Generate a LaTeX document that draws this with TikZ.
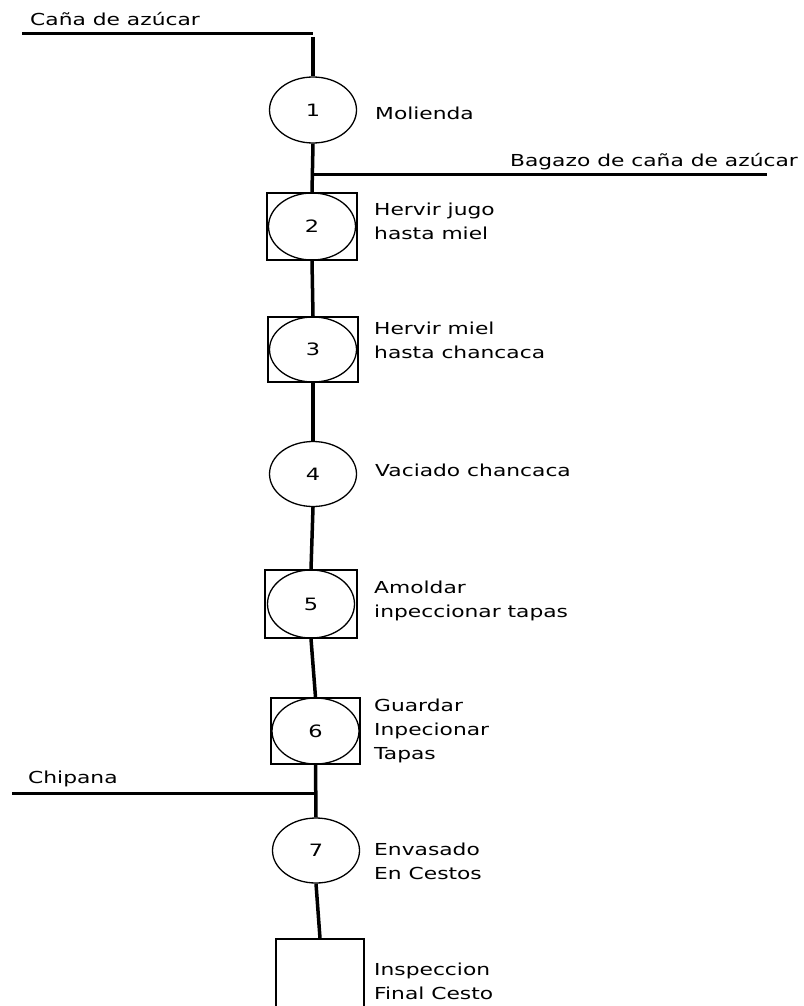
\documentclass[tikz,border=0pt]{standalone}
\usepackage{fontspec}
\setmainfont{DejaVu Sans}[FakeStretch=1.32]
\usetikzlibrary{shapes.geometric}
\begin{document}
\begin{tikzpicture}[x=1pt,y=-1pt,
  op/.style={draw, line width=1.3pt, ellipse, minimum width=87pt, minimum height=66pt, inner sep=0pt,
             font=\fontsize{17}{19}\selectfont},
  frame/.style={draw, line width=1.6pt, rectangle, minimum width=90pt, minimum height=67pt, inner sep=0pt},
  lbl/.style={anchor=west, inner sep=0pt, align=left, font=\fontsize{16.5}{24}\selectfont},
  flow/.style={line width=3.5pt},
  feed/.style={line width=3pt}]
\clip (0,0) rectangle (803,1006);
\fill[white] (0,0) rectangle (803,1006);

% operations along the main line
\node[op] (c1) at (313,110) {1};
\node[frame] (b2) at (312,226.5) {};
\node[op, minimum height=67pt] (c2) at (312,226.5) {2};
\node[frame, minimum height=65pt] (b3) at (313,349.5) {};
\node[op, minimum height=65pt] (c3) at (313,349.5) {3};
\node[op, minimum height=65pt] (c4) at (313,474) {4};
\node[frame, minimum width=92pt, minimum height=68pt] (b5) at (311,604) {};
\node[op, minimum height=68pt] (c5) at (311,604) {5};
\node[frame, minimum width=89pt, minimum height=66pt] (b6) at (315.5,731) {};
\node[op, minimum height=66pt] (c6) at (315.5,731) {6};
\node[op, minimum height=65pt] (c7) at (316,850.5) {7};
\node[draw, line width=1.6pt, rectangle, minimum width=88pt, minimum height=80pt, inner sep=0pt] (fin) at (320,979) {};

% descriptions
\node[lbl] (t1) at (375,113) {Molienda};
\node[lbl] (t2) at (374,221.5) {Hervir jugo\\hasta miel};
\node[lbl] (t3) at (374,340) {Hervir miel\\hasta chancaca};
\node[lbl] (t4) at (375,470) {Vaciado chancaca};
\node[lbl] (t5) at (374,601) {Amoldar\\inpeccionar tapas};
\node[lbl] (t6) at (374,731) {Guardar\\Inpecionar\\Tapas};
\node[lbl] (t7) at (374,861.5) {Envasado\\En Cestos};
\node[lbl] (t8) at (374,981) {Inspeccion\\Final Cesto};

% inputs and outputs
\node[lbl] (in1t) at (30,19) {Caña de azúcar};
\node[lbl, anchor=east] (out1t) at (798,162) {Bagazo de caña de azúcar};
\node[lbl] (in2t) at (28,779) {Chipana};
\coordinate (in1) at (22,34);
\coordinate (k1) at (313,34);
\coordinate (j1) at (312.5,174);
\coordinate (out1) at (767,174);
\coordinate (in2) at (12,793);
\coordinate (j2) at (315.5,793);

% main flow line
\draw[flow] (c1.south) -- (b2.north);
\draw[flow] (b2.south) -- (b3.north);
\draw[flow] (b3.south) -- (c4.north);
\draw[flow] (c4.south) -- (b5.north);
\draw[flow] (b5.south) -- (b6.north);
\draw[flow] (b6.south) -- (c7.north);
\draw[flow] (c7.south) -- (fin.north);

% feed and waste lines
\draw[feed] (in1) -- (k1);
\draw[flow] (k1) ++(0,3) -- (c1.north);
\draw[feed] (j1) -- (out1);
\draw[feed] (in2) -- (j2);
\end{tikzpicture}
\end{document}
